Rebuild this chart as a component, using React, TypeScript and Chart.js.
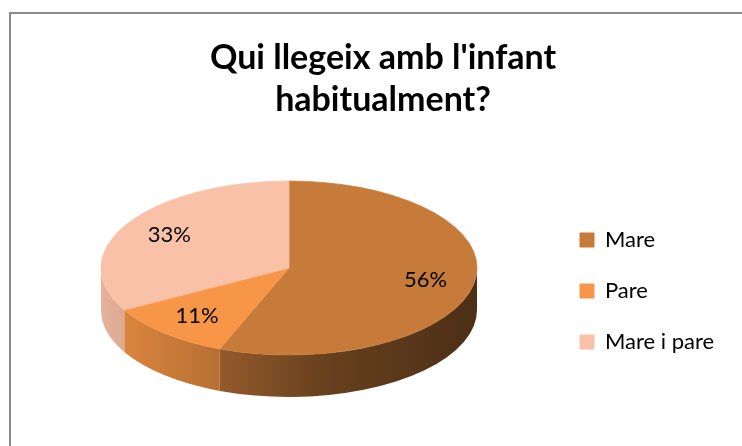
import React, { useEffect, useRef } from 'react';
import { Chart, registerables } from 'chart.js';

Chart.register(...registerables);

const categories = ['Mare', 'Pare', 'Mare i pare'];
const values = [56, 11, 33];
const percentLabels = ['56%', '11%', '33%'];
const colors = ['#C77B3A', '#F79646', '#F9C1A7'];
const titleLines = ["Qui llegeix amb l'infant", 'habitualment?'];

const FONT = 'Lato, "Open Sans", sans-serif';
const TEXT_SIZE = 22;
const CX = 289;
const CY = 268;
const RX = 188;
const RY = 87;
const DEPTH = 42;
const LABEL_F = 0.74;
const LEGEND_X = 580;

const shadeStops: [number, number][] = [
  [0, 0.92],
  [0.3, 0.75],
  [0.6, 0.52],
  [1, 0.38],
];

function hexToRgb(hex: string): [number, number, number] {
  const h = hex.replace('#', '');
  return [parseInt(h.slice(0, 2), 16), parseInt(h.slice(2, 4), 16), parseInt(h.slice(4, 6), 16)];
}

function shade(hex: string, f: number) {
  const [r, g, b] = hexToRgb(hex);
  return `rgb(${Math.round(r * f)},${Math.round(g * f)},${Math.round(b * f)})`;
}

const pie3d = {
  id: 'pie3d',
  beforeDatasetsDraw(chart: any) {
    const meta = chart.getDatasetMeta(0);
    const ctx: CanvasRenderingContext2D = chart.ctx;
    const k = RY / RX;
    meta.data.forEach((arc: any, i: number) => {
      const { startAngle, endAngle, outerRadius } = arc.getProps(['startAngle', 'endAngle', 'outerRadius'], true);
      const R = outerRadius;
      [[0, Math.PI], [2 * Math.PI, 3 * Math.PI]].forEach(([a, b]) => {
        const s = Math.max(startAngle, a);
        const e = Math.min(endAngle, b);
        if (e <= s) return;
        const grad = ctx.createLinearGradient(CX - R, 0, CX + R, 0);
        shadeStops.forEach(([t, f]) => grad.addColorStop(t, shade(colors[i], f)));
        ctx.beginPath();
        ctx.ellipse(CX, CY, R, R * k, 0, s, e, false);
        ctx.ellipse(CX, CY + DEPTH, R, R * k, 0, e, s, true);
        ctx.closePath();
        ctx.fillStyle = grad;
        ctx.fill();
      });
    });
    const c = meta.data[0];
    ctx.save();
    ctx.translate(CX, CY);
    ctx.scale(1, k);
    ctx.translate(-c.x, -c.y);
  },
  afterDatasetsDraw(chart: any) {
    const ctx: CanvasRenderingContext2D = chart.ctx;
    ctx.restore();
    const meta = chart.getDatasetMeta(0);
    const k = RY / RX;
    ctx.save();
    ctx.font = `${TEXT_SIZE}px ${FONT}`;
    ctx.fillStyle = '#000';
    ctx.textAlign = 'center';
    ctx.textBaseline = 'middle';
    meta.data.forEach((arc: any, i: number) => {
      const { startAngle, endAngle, outerRadius } = arc.getProps(['startAngle', 'endAngle', 'outerRadius'], true);
      const mid = (startAngle + endAngle) / 2;
      const px = CX + LABEL_F * outerRadius * Math.cos(mid);
      const py = CY + k * LABEL_F * outerRadius * Math.sin(mid);
      ctx.fillText(percentLabels[i], px, py);
    });
    ctx.restore();
  },
};

export default function App() {
  const ref = useRef<HTMLCanvasElement | null>(null);

  useEffect(() => {
    if (!ref.current) return;
    const mctx = document.createElement('canvas').getContext('2d')!;
    mctx.font = `${TEXT_SIZE}px ${FONT}`;
    const W = Math.max(...categories.map((c) => mctx.measureText(c).width));
    const padR = Math.max(0, 742 - LEGEND_X - 10 - 14 - TEXT_SIZE / 2 - W);
    const padL = 24 + padR;

    const chart = new Chart(ref.current, {
      type: 'pie',
      data: {
        labels: categories,
        datasets: [
          {
            data: values,
            backgroundColor: colors,
            borderColor: colors,
            borderWidth: 1,
            clip: false,
            radius: RX,
          } as any,
        ],
      },
      options: {
        responsive: false,
        animation: false,
        events: [],
        layout: { padding: { left: padL, right: padR, top: 0, bottom: 0 } },
        plugins: {
          tooltip: { enabled: false },
          title: {
            display: true,
            text: titleLines,
            color: '#000',
            font: { family: FONT, size: 34, weight: 'bold', lineHeight: 42 / 34 },
            padding: { top: 37, bottom: 15 },
          },
          legend: {
            position: 'right',
            fullSize: false,
            labels: {
              boxWidth: 14,
              boxHeight: 14,
              padding: 29,
              color: '#000',
              font: { family: FONT, size: TEXT_SIZE },
            },
          },
        },
      },
      plugins: [pie3d],
    });
    return () => chart.destroy();
  }, []);

  return (
    <div style={{ position: 'absolute', left: 0, top: 0, width: 742, height: 446, overflow: 'hidden', background: '#fff' }}>
      <div
        style={{
          position: 'absolute',
          left: 9,
          top: 12,
          width: 800,
          height: 500,
          borderLeft: '2px solid #8a8a8a',
          borderTop: '2px solid #8a8a8a',
        }}
      />
      <canvas ref={ref} width={742} height={446} style={{ position: 'absolute', left: 0, top: 0, display: 'block' }} />
    </div>
  );
}
